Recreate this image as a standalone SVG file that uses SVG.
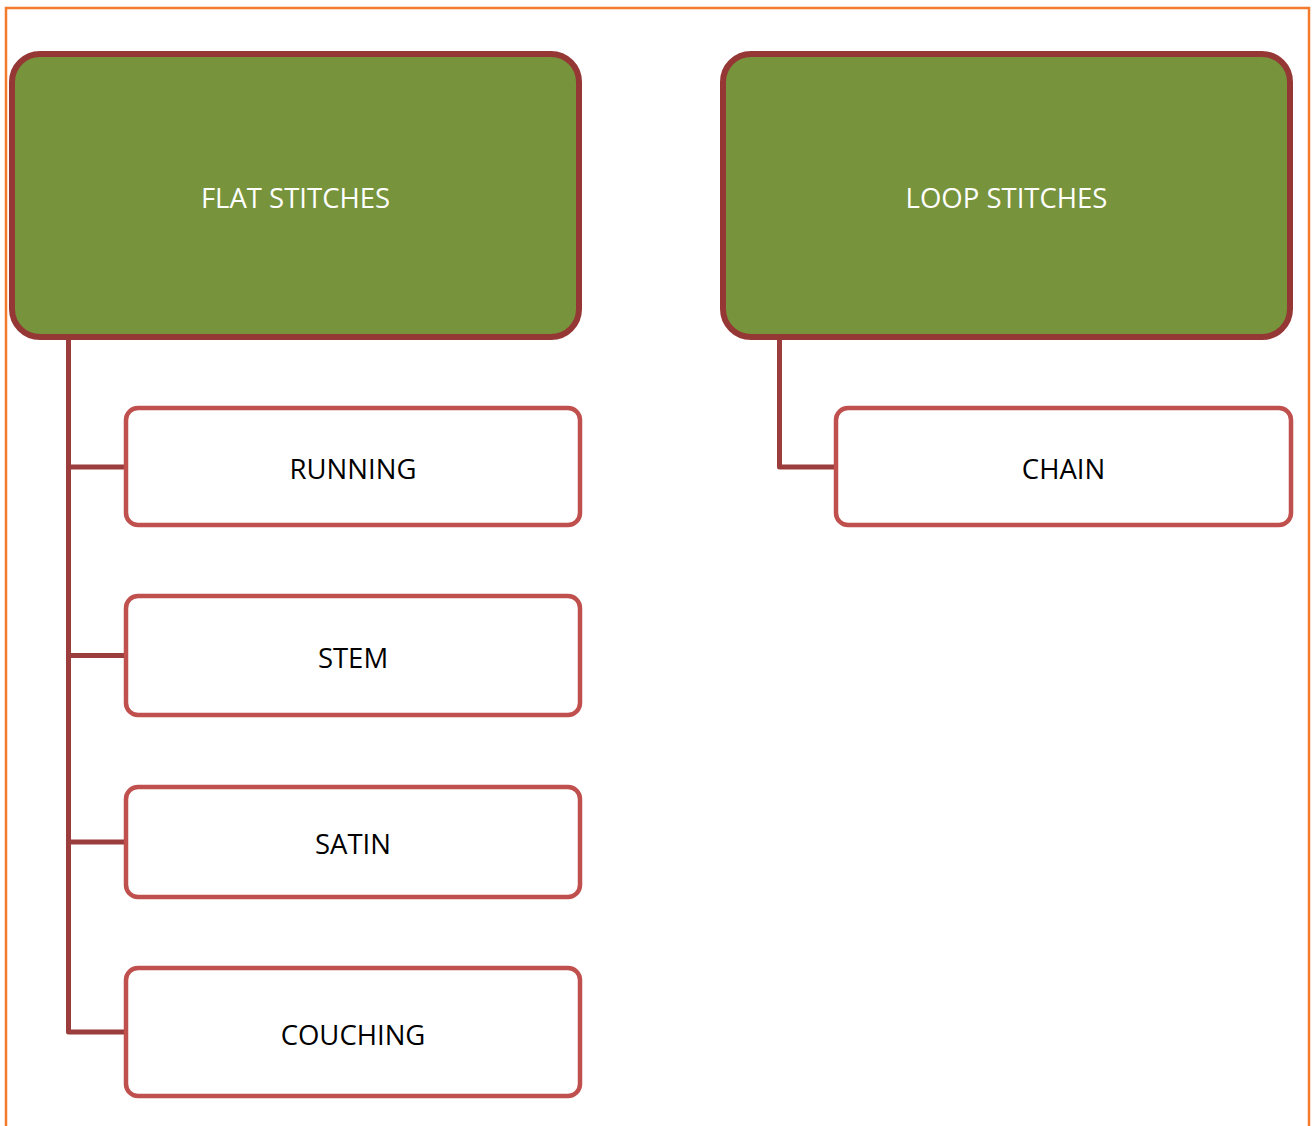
<svg xmlns="http://www.w3.org/2000/svg" width="1314" height="1126" viewBox="0 0 1314 1126">
<style>
.frame{fill:none;stroke:#F47A2C;stroke-width:2.5}
.head rect{fill:#77933C;stroke:#953735;stroke-width:6}
.child rect{fill:#FFFFFF;stroke:#C0504D;stroke-width:4.5}
.conn{fill:none;stroke:#9B3D3D;stroke-width:5;stroke-linejoin:round}
text{font-family:"Open Sans","Liberation Sans",sans-serif;font-size:27.5px;text-anchor:middle}
.head text{fill:#FFFFFF}
.child text{fill:#000000}
</style>
<rect x="0" y="0" width="1314" height="1126" fill="#FFFFFF"/>
<rect class="frame" x="6" y="8" width="1303" height="1130"/>
<g id="connectors">
<path class="conn" d="M68.5,337 V1032 H126 M68.5,467 H126 M68.5,655.5 H126 M68.5,842 H126"/>
<path class="conn" d="M779.5,337 V467 H836"/>
</g>
<g id="flat-stitches" class="head">
<rect x="12" y="54" width="567" height="283" rx="28" ry="28"/>
<text x="295.5" y="208">FLAT STITCHES</text>
</g>
<g id="loop-stitches" class="head">
<rect x="723" y="54" width="567" height="283" rx="28" ry="28"/>
<text x="1006.5" y="208">LOOP STITCHES</text>
</g>
<g id="running" class="child">
<rect x="126" y="408" width="454" height="117" rx="12" ry="12"/>
<text x="353" y="479">RUNNING</text>
</g>
<g id="stem" class="child">
<rect x="126" y="596" width="454" height="119" rx="12" ry="12"/>
<text x="353" y="668">STEM</text>
</g>
<g id="satin" class="child">
<rect x="126" y="787" width="454" height="110" rx="12" ry="12"/>
<text x="353" y="854">SATIN</text>
</g>
<g id="couching" class="child">
<rect x="126" y="968" width="454" height="128" rx="12" ry="12"/>
<text x="353" y="1045">COUCHING</text>
</g>
<g id="chain" class="child">
<rect x="836" y="408" width="455" height="117" rx="12" ry="12"/>
<text x="1063.5" y="479">CHAIN</text>
</g>
</svg>
